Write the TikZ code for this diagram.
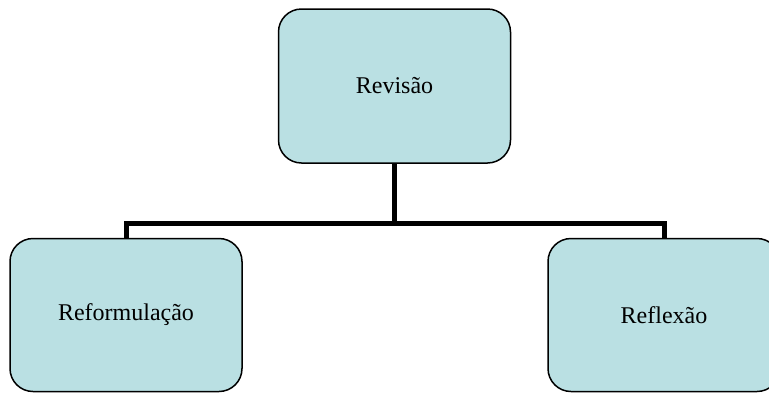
\documentclass[tikz,border=0pt]{standalone}
\usepackage{fontspec}
\setmainfont{Liberation Serif}
\usepackage{tikz}
\definecolor{boxfill}{RGB}{186,224,227}
\tikzset{box/.style={rectangle,rounded corners=23pt,draw=black,line width=1.5pt,fill=boxfill,minimum width=232pt,minimum height=153pt,inner sep=0pt}}
\tikzset{link/.style={line width=5pt,line join=miter}}

\begin{document}
\begin{tikzpicture}[x=1pt,y=-1pt,font=\fontsize{24}{28}\selectfont]
      \useasboundingbox (0,0) rectangle (769,392);
      \clip (0,0) rectangle (769,392);
      \coordinate (bar) at (394.5,223);
      \node[box,minimum height=154pt] (rev) at (394.5,86) {Revisão};
      \node[box] (refo) at (126,315) {Reformulação};
      \node[box] (refl) at (664,315) {Reflexão};
        \draw[link] (rev.south) -- (bar);
        \draw[link] (bar) -| (refo.north);
        \draw[link] (bar) -| (refl.north);
    \end{tikzpicture}
\end{document}
